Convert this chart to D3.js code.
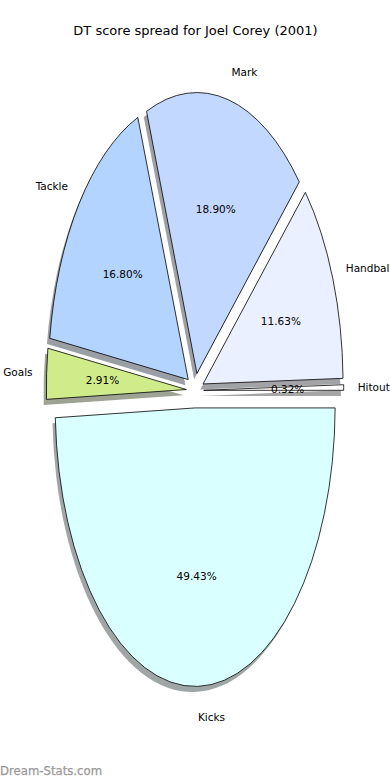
<!DOCTYPE html>
<html>
<head>
<meta charset="utf-8">
<script src="https://cdn.jsdelivr.net/npm/d3@7"></script>
<style>
  html, body { margin: 0; padding: 0; background: #fff; }
  svg { display: block; }
  text { font-family: "DejaVu Sans", sans-serif; }
</style>
</head>
<body>
<svg id="chart" width="390" height="780"></svg>
<script>
const categories = ["Hitout", "Handball", "Mark", "Tackle", "Goals", "Kicks"];
const values = [0.32, 11.63, 18.90, 16.80, 2.91, 49.43];
const colors = ["#ffffff", "#eaf0ff", "#c3d8ff", "#b3d4ff", "#d0ec8a", "#d9ffff"];
const title = "DT score spread for Joel Corey (2001)";
const watermark = "Dream-Stats.com";

const W = 390, H = 780;
const cx = 195, cy = 390.5, rx = 140, ry = 281;
const explode = 0.062, labelDist = 1.1, pctDist = 0.6, shadowOff = 0.02;
const labelSize = 10.5;

const svg = d3.select("#chart");

// unit-circle -> pixel scales (y flipped, elliptical)
const sx = d3.scaleLinear().domain([-1, 1]).range([cx - rx, cx + rx]);
const sy = d3.scaleLinear().domain([-1, 1]).range([cy + ry, cy - ry]);

// counter-clockwise from east (matplotlib style)
const pie = d3.pie().value(d => d).sort(null)
  .startAngle(Math.PI / 2).endAngle(Math.PI / 2 - 2 * Math.PI);
const arcs = pie(values);
const arc = d3.arc().innerRadius(0).outerRadius(1);

const total = d3.sum(values);
const g = svg.append("g");

arcs.forEach((a, i) => {
  const mid = (a.startAngle + a.endAngle) / 2;
  const theta = Math.PI / 2 - mid; // math angle
  const ux = explode * Math.cos(theta), uy = explode * Math.sin(theta);
  const px = sx(ux), py = sy(uy);
  const sh = shadowOff;
  const c = d3.rgb(colors[i]);
  // shadow
  g.append("path")
    .attr("d", arc(a))
    .attr("transform", `translate(${sx(ux - sh)},${sy(uy - sh)}) scale(${rx},${ry})`)
    .attr("fill", d3.rgb(c.r * 0.3, c.g * 0.3, c.b * 0.3).toString())
    .attr("fill-opacity", 0.5)
    .attr("stroke", "none");
  // wedge
  g.append("path")
    .attr("d", arc(a))
    .attr("transform", `translate(${px},${py}) scale(${rx},${ry})`)
    .attr("fill", colors[i])
    .attr("stroke", "#000")
    .attr("stroke-width", 0.8)
    .attr("vector-effect", "non-scaling-stroke")
    .attr("stroke-linejoin", "miter");
});

arcs.forEach((a, i) => {
  const mid = (a.startAngle + a.endAngle) / 2;
  const theta = Math.PI / 2 - mid;
  const c = Math.cos(theta), s = Math.sin(theta);
  const ux = explode * c, uy = explode * s;
  // category label
  const lx = sx(ux + labelDist * c), ly = sy(uy + labelDist * s);
  svg.append("text")
    .attr("x", lx).attr("y", ly)
    .attr("text-anchor", (ux + labelDist * c) > 0 ? "start" : "end")
    .attr("dominant-baseline", "central")
    .attr("font-size", labelSize)
    .attr("fill", "#000")
    .text(categories[i]);
  // percentage
  svg.append("text")
    .attr("x", sx(ux + pctDist * c)).attr("y", sy(uy + pctDist * s))
    .attr("text-anchor", "middle")
    .attr("dominant-baseline", "central")
    .attr("font-size", labelSize)
    .attr("fill", "#000")
    .text((values[i] / total * 100).toFixed(2) + "%");
});

svg.append("text")
  .attr("x", 195.5).attr("y", 30)
  .attr("text-anchor", "middle")
  .attr("dominant-baseline", "central")
  .attr("font-size", 13)
  .attr("fill", "#000")
  .text(title);

svg.append("text")
  .attr("x", 0).attr("y", 775)
  .attr("font-size", 11.7)
  .attr("fill", "#999999")
  .attr("stroke", "#999999")
  .attr("stroke-width", 0.25)
  .text(watermark);
</script>
</body>
</html>
